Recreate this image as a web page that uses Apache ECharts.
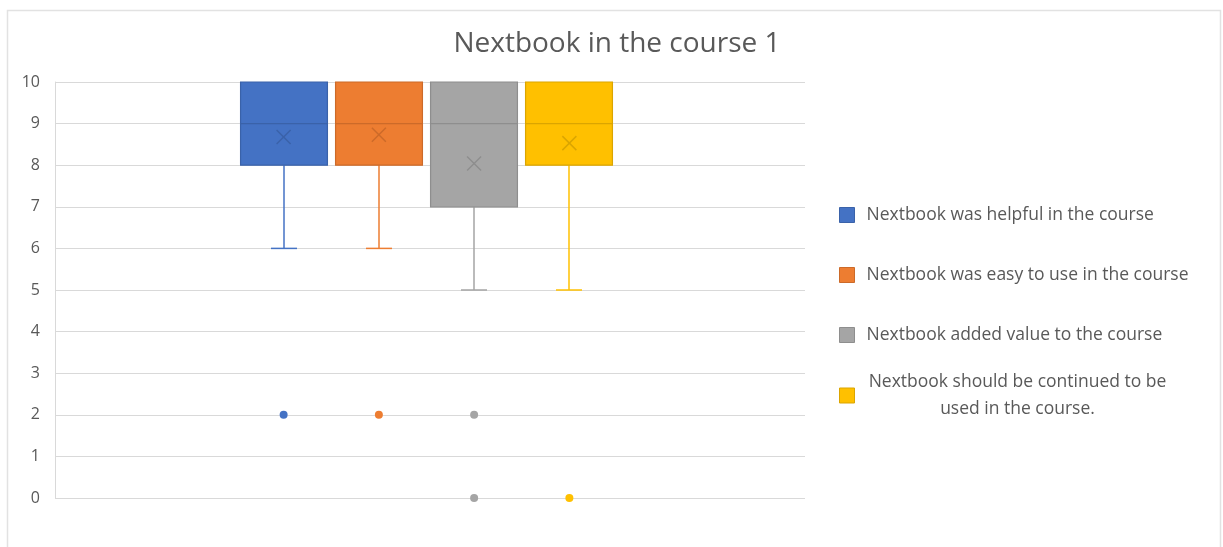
<!DOCTYPE html>
<html>
<head>
<meta charset="utf-8">
<title>Nextbook in the course 1</title>
<script src="https://cdn.jsdelivr.net/npm/echarts@6/dist/echarts.min.js"></script>
<style>
  html, body { margin: 0; padding: 0; background: #fff; }
  #chart { width: 1223px; height: 547px; }
</style>
</head>
<body>
<div id="chart"></div>
<script>
// survey questions, one box each
const seriesNames = [
  'Nextbook was helpful in the course',
  'Nextbook was easy to use in the course',
  'Nextbook added value to the course',
  'Nextbook should be continued to be used in the course.'
]
const colors = ['#4472c4', '#ed7d31', '#a5a5a5', '#ffc000']
const darkColors = ['#3a62a9', '#cc6a29', '#8e8e8e', '#dba500']

// box and whisker statistics
const minValues = [6, 6, 5, 5]
const q1Values = [8, 8, 7, 8]
const medianValues = [9, 9, 9, 9]
const q3Values = [10, 10, 10, 10]
const maxValues = [10, 10, 10, 10]
const meanValues = [8.68, 8.73, 8.04, 8.53]
const outlierValues = [[2], [2], [2, 0], [0]]

const yTicks = [0, 1, 2, 3, 4, 5, 6, 7, 8, 9, 10]

const FONT = 'Open Sans'
const TEXT = '#595959'
const GRID = '#d9d9d9'

const chart = echarts.init(document.getElementById('chart'))

const renderBox = (params, api) => {
  const i = api.value(0)
  const lo = api.coord([i, api.value(1)])
  const q1 = api.coord([i, api.value(2)])
  const med = api.coord([i, api.value(3)])
  const q3 = api.coord([i, api.value(4)])
  const hi = api.coord([i, api.value(5)])
  const mean = api.coord([i, api.value(6)])
  const band = api.size([1, 0])[0]
  const boxW = band * 0.912
  const capW = boxW * 0.3
  const x = Math.round(q1[0])
  const c = colors[i]
  const d = darkColors[i]
  const line = (x1, y1, x2, y2, stroke, w) => ({
    type: 'line',
    shape: { x1, y1, x2, y2 },
    style: { stroke, lineWidth: w || 1.5 }
  })
  const m = 7
  const children = []
  if (lo[1] !== q1[1]) {
    children.push(line(x, q1[1], x, lo[1], c))
    children.push(line(x - capW / 2, lo[1], x + capW / 2, lo[1], c))
  }
  if (hi[1] !== q3[1]) {
    children.push(line(x, q3[1], x, hi[1], c))
    children.push(line(x - capW / 2, hi[1], x + capW / 2, hi[1], c))
  }
  children.push(
    {
      type: 'rect',
      shape: { x: x - boxW / 2, y: q3[1], width: boxW, height: q1[1] - q3[1] },
      style: { fill: c, stroke: d, lineWidth: 1.2 }
    },
    line(x - boxW / 2, med[1], x + boxW / 2, med[1], d, 1.3),
    line(mean[0] - m, mean[1] - m, mean[0] + m, mean[1] + m, d, 1.5),
    line(mean[0] - m, mean[1] + m, mean[0] + m, mean[1] - m, d, 1.5)
  )
  return { type: 'group', children }
}

const boxSeries = seriesNames.map((name, i) => ({
  name,
  type: 'custom',
  xAxisIndex: 1,
  yAxisIndex: 1,
  renderItem: renderBox,
  itemStyle: { color: colors[i], borderColor: darkColors[i] },
  encode: { x: 0, y: [1, 2, 3, 4, 5, 6] },
  data: [[i, minValues[i], q1Values[i], medianValues[i], q3Values[i], maxValues[i], meanValues[i]]],
  z: 2
}))

const outlierSeries = seriesNames.map((name, i) => ({
  name,
  type: 'scatter',
  xAxisIndex: 1,
  yAxisIndex: 1,
  symbol: 'circle',
  symbolSize: 8,
  itemStyle: { color: colors[i], opacity: 1 },
  data: outlierValues[i].map(v => [i, v]),
  z: 3
}))

const legendItem = i => ({
  name: seriesNames[i],
  icon: 'rect',
  itemStyle: { color: colors[i], borderColor: darkColors[i], borderWidth: 1 }
})

// wrap long legend names onto centred lines
const wrapName = (name, maxLen) => {
  const words = name.split(' ')
  const lines = ['']
  words.forEach(w => {
    const cur = lines[lines.length - 1]
    if (cur && (cur + ' ' + w).length > maxLen) lines.push(w)
    else lines[lines.length - 1] = cur ? cur + ' ' + w : w
  })
  return lines.map(l => '{c|' + l + '}').join('\n')
}

const LEGEND_SIZE = 17.5

const option = {
  backgroundColor: '#fff',
  animation: false,
  title: {
    text: 'Nextbook in the course 1',
    left: 612,
    textAlign: 'center',
    top: 25,
    textStyle: { fontFamily: FONT, fontSize: 28, fontWeight: 'normal', color: TEXT }
  },
  graphic: [{
    type: 'rect',
    shape: { x: 7.5, y: 10.5, width: 1213, height: 560 },
    style: { fill: 'none', stroke: '#e2e2e2', lineWidth: 1.5 },
    silent: true
  }],
  legend: [{
    orient: 'vertical',
    left: 839,
    top: 206,
    padding: 0,
    itemWidth: 15,
    itemHeight: 15,
    itemGap: 42,
    selectedMode: false,
    textStyle: { fontFamily: FONT, fontSize: LEGEND_SIZE, color: TEXT, lineHeight: 15, padding: [0, 0, 0, 7] },
    data: [0, 1, 2].map(legendItem)
  }, {
    orient: 'vertical',
    left: 839,
    top: 373,
    padding: 0,
    itemWidth: 15,
    itemHeight: 15,
    selectedMode: false,
    formatter: name => wrapName(name, 34),
    textStyle: {
      fontFamily: FONT, fontSize: LEGEND_SIZE, color: TEXT,
      rich: { c: { fontFamily: FONT, fontSize: LEGEND_SIZE, color: TEXT, width: 316, align: 'center', lineHeight: 27 } }
    },
    data: [legendItem(3)]
  }],
  grid: [
    { left: 55, right: 418, top: 82, bottom: 49 },
    { left: 236, width: 381, top: 82, bottom: 49 }
  ],
  xAxis: [
    { type: 'value', gridIndex: 0, show: false, min: 0, max: 1 },
    { type: 'category', gridIndex: 1, show: false, data: seriesNames }
  ],
  yAxis: [
    {
      type: 'value',
      gridIndex: 0,
      min: yTicks[0],
      max: yTicks[yTicks.length - 1],
      interval: 1,
      axisLine: { show: true, lineStyle: { color: GRID } },
      axisTick: { show: false },
      axisLabel: { fontFamily: FONT, fontSize: 16, color: TEXT, margin: 15 },
      splitLine: { lineStyle: { color: GRID, width: 1 } }
    },
    {
      type: 'value',
      gridIndex: 1,
      min: yTicks[0],
      max: yTicks[yTicks.length - 1],
      show: false,
      splitLine: { show: false }
    }
  ],
  series: [...boxSeries, ...outlierSeries]
}

chart.setOption(option)
</script>
</body>
</html>
